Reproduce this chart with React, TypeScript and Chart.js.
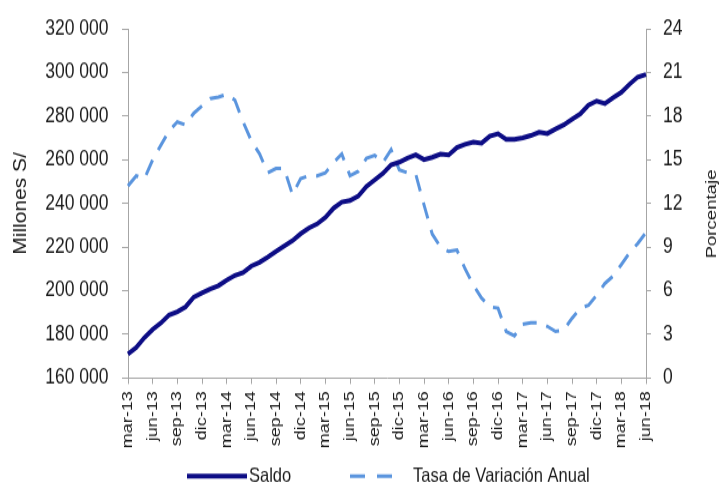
import React, { useEffect, useRef } from "react";
import { Chart, registerables } from "chart.js";

Chart.register(...registerables);

// ---- data ----
const MONTH_NAMES = ["ene", "feb", "mar", "abr", "may", "jun", "jul", "ago", "sep", "oct", "nov", "dic"];
const categories: string[] = [];
for (let y = 13, m = 2; y < 18 || (y === 18 && m <= 5); ) {
  categories.push(`${MONTH_NAMES[m]}-${y}`);
  m++;
  if (m === 12) { m = 0; y++; }
}

const saldo = [
  171000, 174000, 178500, 182200, 185200, 188900, 190400, 192600, 197100, 199000,
  200800, 202300, 204800, 207000, 208300, 211300, 213000, 215400, 218000, 220500,
  222900, 226100, 228700, 230600, 233600, 237800, 240600, 241300, 243300, 247700,
  250700, 253700, 257700, 258900, 260800, 262300, 260100, 261100, 262600, 262200,
  265600, 267100, 268100, 267600, 270800, 271900, 269400, 269400, 270000, 271100,
  272600, 272000, 274100, 276000, 278600, 281000, 285000, 286900, 285700, 288400,
  290900, 294600, 297900, 299100,
];

const tasa = [
  13.2, 13.9, 13.7, 15.0, 16.0, 17.0, 17.6, 17.4, 18.2, 18.7,
  19.2, 19.3, 19.5, 19.1, 17.6, 16.3, 15.4, 14.1, 14.4, 14.4,
  12.6, 13.7, 13.9, 13.9, 14.1, 14.8, 15.4, 13.9, 14.2, 15.1,
  15.3, 14.8, 15.7, 14.3, 14.1, 14.0, 11.9, 9.9, 9.0, 8.7,
  8.8, 7.5, 6.4, 5.5, 4.9, 4.8, 3.2, 2.9, 3.7, 3.8,
  3.8, 3.55, 3.2, 3.3, 4.1, 4.8, 5.0, 5.7, 6.5, 7.0,
  7.8, 8.6, 9.25, 10.0,
];

const SERIES_LABELS = ["Saldo", "Tasa de Variación Anual"];
const LEFT_TITLE = "Millones S/";
const RIGHT_TITLE = "Porcentaje";

// ---- layout constants ----
const W = 721;
const H_CSS = 489;
const H = 408; // drawing buffer height (reference is vertically stretched)
const K = H_CSS / H;
const TOP = 20 / K;
const BOTTOM = 378 / K;
const LEFT = 128;
const RIGHT = 646;

const NAVY = "#0d0d85";
const BLUE = "#5b95de";
const AXIS = "#a6a6a6";
const TEXT = "#1a1a1a";
const FONT = "'Liberation Sans', Arial, sans-serif";

const fmt = (v: number) => String(v).replace(/\B(?=(\d{3})+(?!\d))/g, " ");

const extrasPlugin = {
  id: "extras",
  afterDraw(chart: any) {
    const ctx = chart.ctx as CanvasRenderingContext2D;
    const ds = chart.data.datasets;
    const ly = 476 / K;
    ctx.save();
    ctx.fillStyle = TEXT;
    ctx.font = `16.5px ${FONT}`;
    ctx.textBaseline = "middle";
    ctx.textAlign = "left";
    // Saldo sample
    ctx.strokeStyle = ds[0].borderColor;
    ctx.lineWidth = 4;
    ctx.setLineDash([]);
    ctx.beginPath();
    ctx.moveTo(187, ly);
    ctx.lineTo(247, ly);
    ctx.stroke();
    ctx.fillText(ds[0].label, 249, ly);
    // Tasa sample
    ctx.strokeStyle = ds[1].borderColor;
    ctx.lineWidth = 3;
    ctx.setLineDash([15, 12]);
    ctx.beginPath();
    ctx.moveTo(350, ly);
    ctx.lineTo(396, ly);
    ctx.stroke();
    ctx.setLineDash([]);
    ctx.fillText(ds[1].label, 413, ly);
    // right axis title (reads bottom to top)
    ctx.font = `15.5px ${FONT}`;
    ctx.translate(712, 214 / K);
    ctx.rotate(-Math.PI / 2);
    ctx.textAlign = "center";
    ctx.fillText(RIGHT_TITLE, 0, 0);
    ctx.restore();
  },
};

export default function App() {
  const ref = useRef<HTMLCanvasElement | null>(null);

  useEffect(() => {
    document.body.style.margin = "0";
    const canvas = ref.current;
    if (!canvas) return;
    Chart.defaults.font.family = FONT;
    Chart.defaults.color = TEXT;

    const chart = new Chart(canvas, {
      type: "line",
      data: {
        labels: categories,
        datasets: [
          {
            label: SERIES_LABELS[0],
            data: saldo,
            yAxisID: "y",
            borderColor: NAVY,
            backgroundColor: NAVY,
            borderWidth: 4,
            pointRadius: 0,
            tension: 0,
            order: 1,
          },
          {
            label: SERIES_LABELS[1],
            data: tasa,
            yAxisID: "y1",
            borderColor: BLUE,
            backgroundColor: BLUE,
            borderWidth: 3,
            borderDash: [14, 10],
            pointRadius: 0,
            tension: 0,
            order: 2,
          },
        ],
      },
      options: {
        responsive: false,
        animation: false,
        devicePixelRatio: 1,
        layout: { padding: { top: TOP, left: 0, right: 0, bottom: 0 } },
        plugins: { legend: { display: false }, tooltip: { enabled: false } },
        scales: {
          x: {
            type: "category",
            offset: false,
            grid: {
              drawOnChartArea: false,
              drawTicks: true,
              tickLength: 5,
              tickColor: (c: any) => (c.index % 3 === 0 ? AXIS : "rgba(0,0,0,0)"),
            },
            border: { display: true, color: AXIS, width: 1 },
            ticks: {
              autoSkip: false,
              maxRotation: 90,
              minRotation: 90,
              padding: 6,
              color: TEXT,
              font: { size: 15, family: FONT },
              callback: (_v: any, i: number) => (i % 3 === 0 ? categories[i] : ""),
            },
            afterFit: (s: any) => {
              s.height = H - BOTTOM;
            },
          },
          y: {
            type: "linear",
            position: "left",
            min: 160000,
            max: 320000,
            grid: { drawOnChartArea: false, drawTicks: true, tickLength: 6, tickColor: AXIS },
            border: { display: true, color: AXIS, width: 1 },
            ticks: {
              stepSize: 20000,
              padding: 13.5,
              color: TEXT,
              font: { size: 17.5, family: FONT },
              callback: (v: any) => fmt(Number(v)),
            },
            title: {
              display: true,
              text: LEFT_TITLE,
              color: TEXT,
              font: { size: 17.5, family: FONT },
              padding: { top: 11, bottom: 0 },
            },
            afterFit: (s: any) => {
              s.width = LEFT;
            },
          },
          y1: {
            type: "linear",
            position: "right",
            min: 0,
            max: 24,
            grid: { drawOnChartArea: false, drawTicks: true, tickLength: 5, tickColor: AXIS },
            border: { display: true, color: AXIS, width: 1 },
            ticks: {
              stepSize: 3,
              padding: 12,
              color: TEXT,
              font: { size: 17.5, family: FONT },
            },
            afterFit: (s: any) => {
              s.width = W - RIGHT;
            },
          },
        },
      },
      plugins: [extrasPlugin],
    } as any);

    return () => chart.destroy();
  }, []);

  return (
    <canvas
      ref={ref}
      width={W}
      height={H}
      style={{ width: `${W}px`, height: `${H_CSS}px`, display: "block" }}
    />
  );
}
